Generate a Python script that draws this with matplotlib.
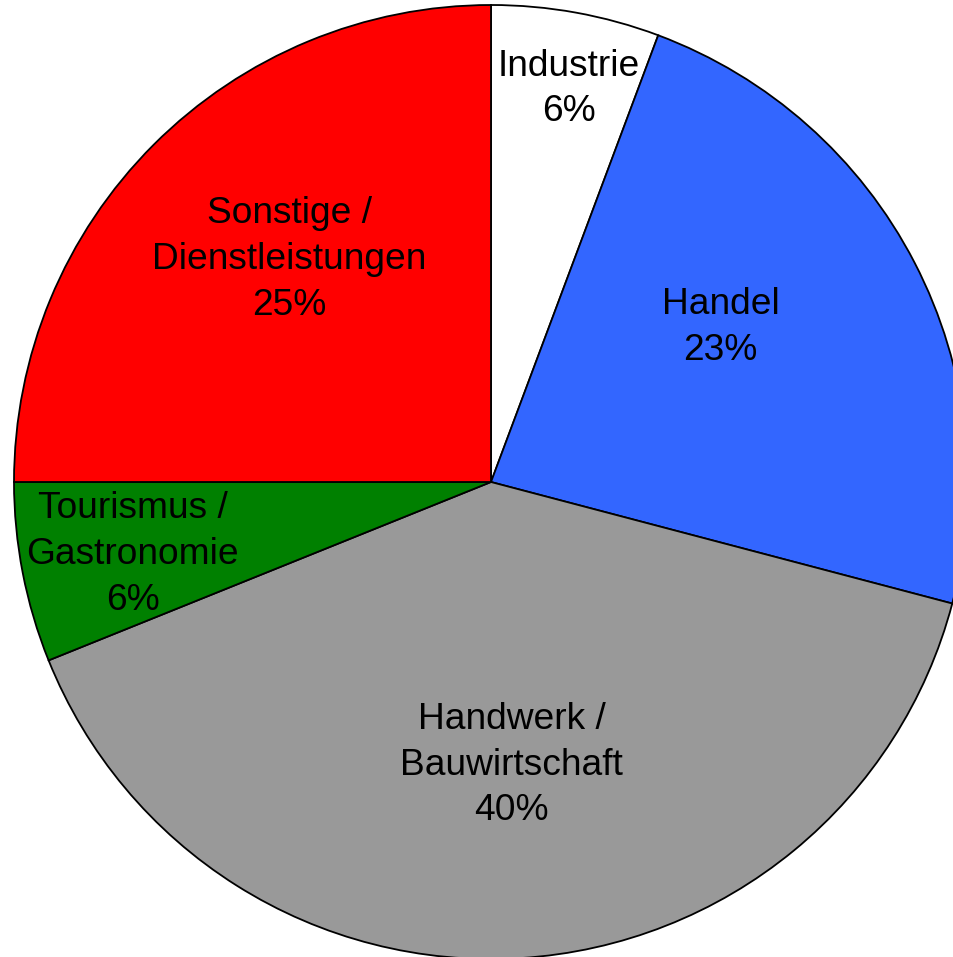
import matplotlib.pyplot as plt
import numpy as np

# Betriebe nach Branchen (Anteile in %)
sectors = ["Industrie", "Handel", "Handwerk /\nBauwirtschaft",
           "Tourismus /\nGastronomie", "Sonstige /\nDienstleistungen"]
shares = [5.7, 23.4, 39.8, 6.1, 25.0]
colors = ["#FFFFFF", "#3366FF", "#999999", "#008000", "#FF0000"]
# label placement: fraction of radius, angle offset from bisector (deg)
label_radius = [0.84, 0.58, 0.595, 0.766, 0.63]
label_shift = [-1.0, 6.6, 0.6, 0.5, -2.8]

W, H = 954, 957
fig = plt.figure(figsize=(W / 100, H / 100), dpi=100)
ax = fig.add_axes([0, 0, 1, 1])

cx, cy, r = 491, H - 482, 477
wedges, _ = ax.pie(shares, colors=colors, startangle=90, counterclock=False,
                   center=(cx, cy), radius=r, frame=True,
                   wedgeprops=dict(edgecolor="black", linewidth=1.3))
ax.set_xlim(0, W)
ax.set_ylim(0, H)
ax.set_aspect("equal")
ax.axis("off")

for w, name, val, lr, sh in zip(wedges, sectors, shares, label_radius, label_shift):
    ang = np.deg2rad((w.theta1 + w.theta2) / 2 + sh)
    x = cx + lr * r * np.cos(ang)
    y = cy + lr * r * np.sin(ang)
    ax.text(x, y, f"{name}\n{round(val)}%", ha="center", va="center",
            fontsize=26.7, family="Liberation Sans", linespacing=1.4)

fig.savefig("out.png", dpi=100)
